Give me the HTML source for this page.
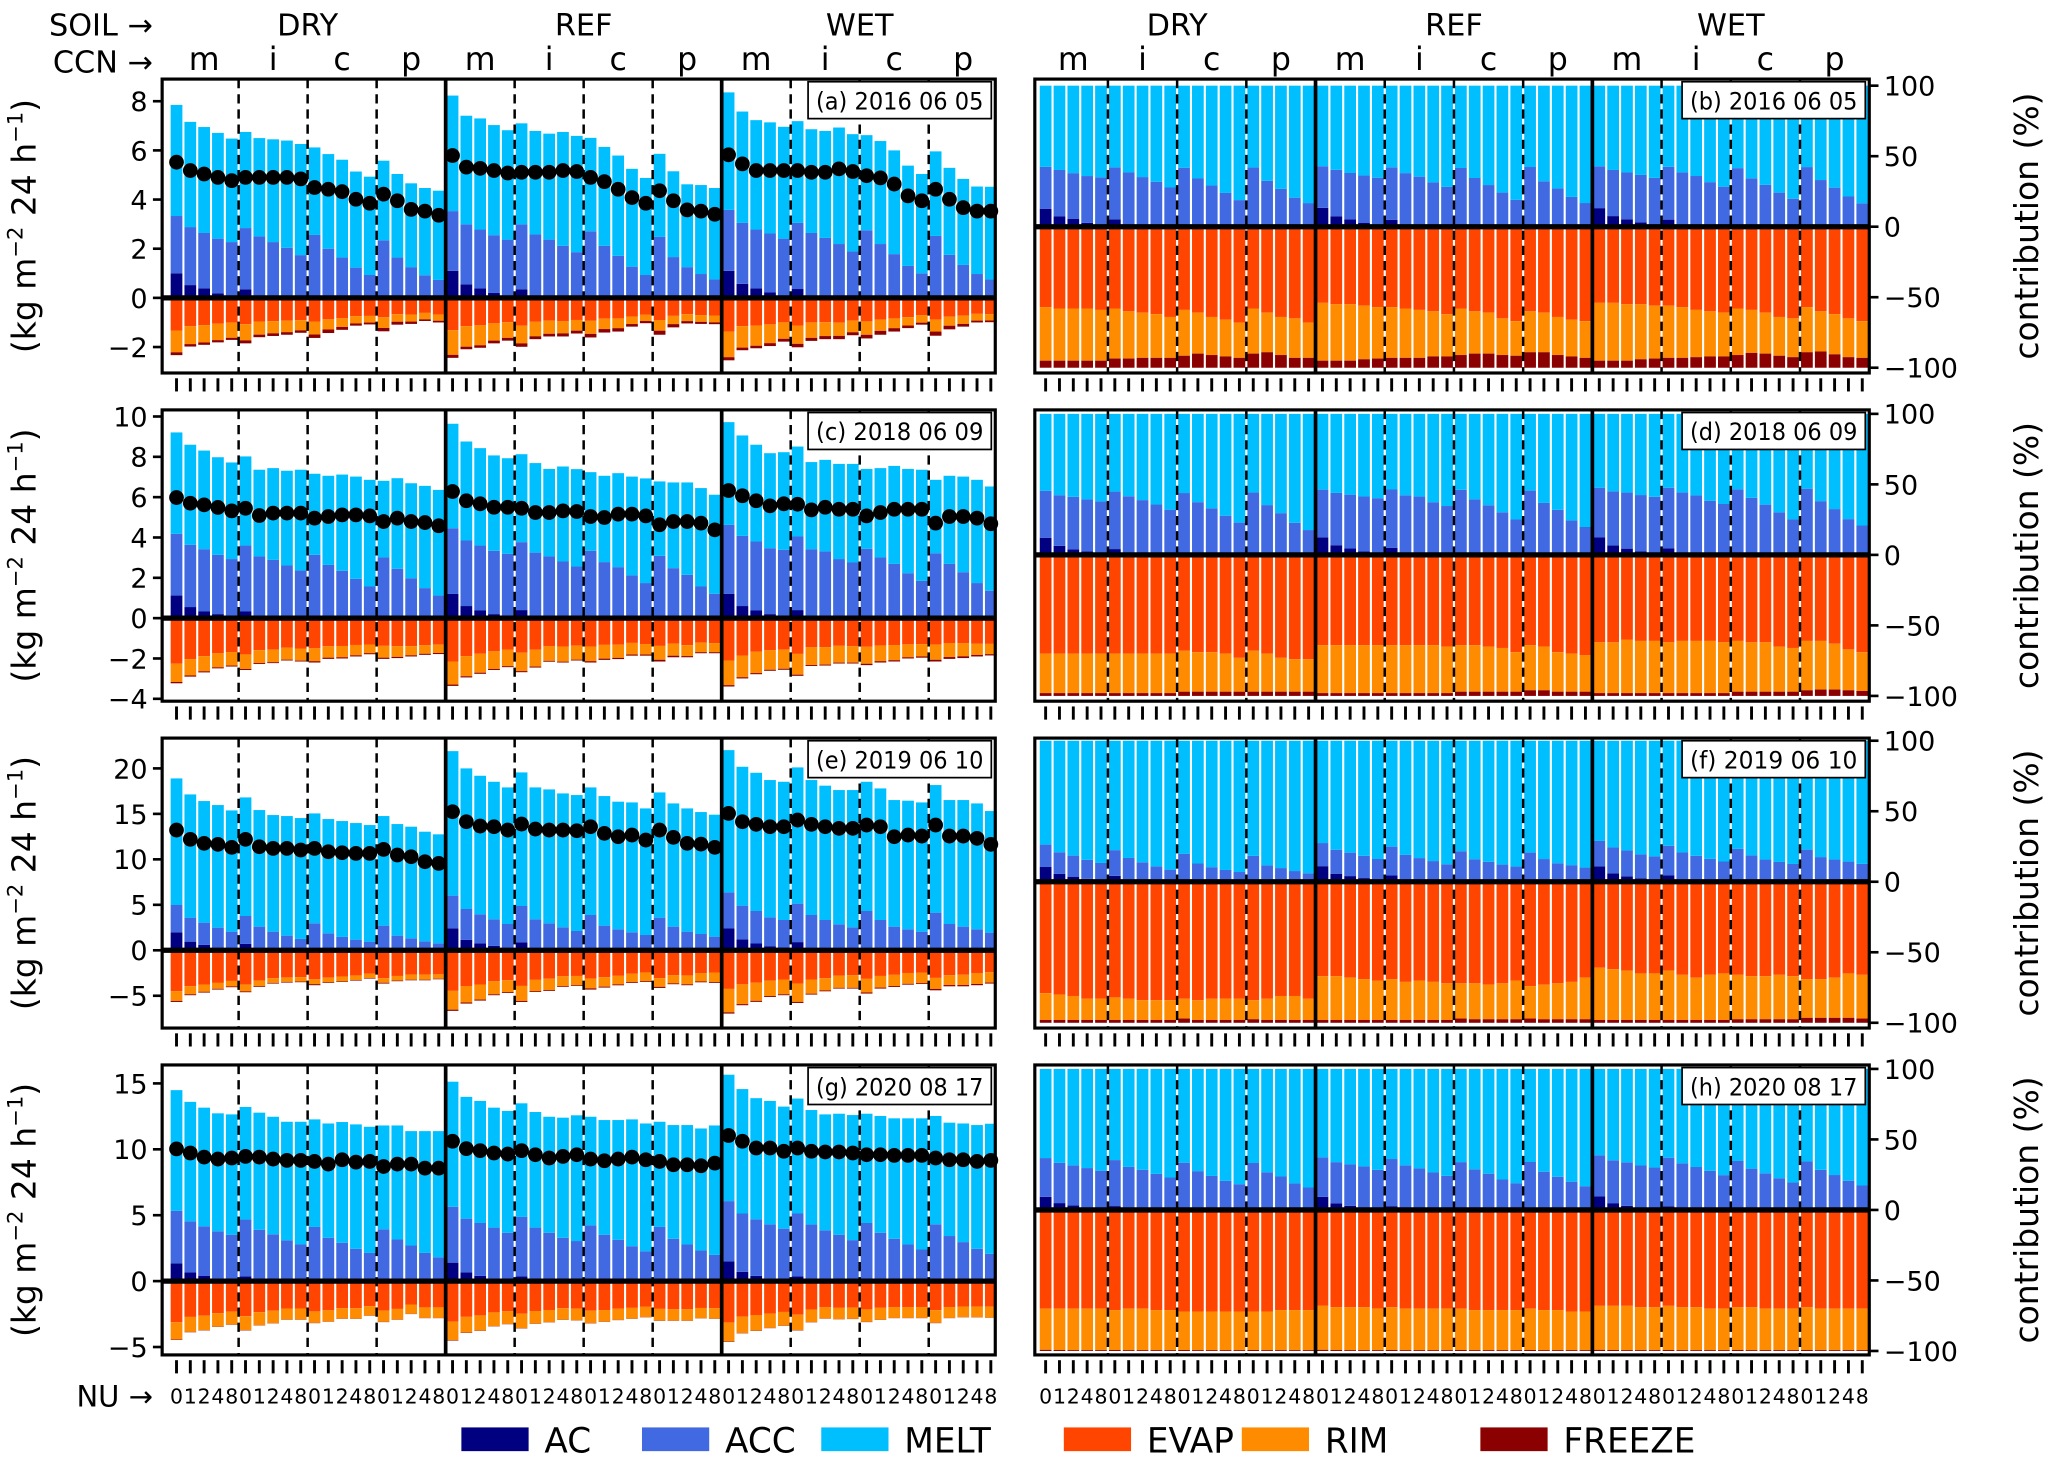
<!DOCTYPE html>
<html><head><meta charset="utf-8"><title>Hydrometeor process contributions</title>
<style>
html,body{margin:0;padding:0;background:#fff;}
svg{display:block;font-family:"DejaVu Sans","Liberation Sans",sans-serif;}
</style></head>
<body>
<svg id="fig" xmlns="http://www.w3.org/2000/svg" width="2067" height="1463" viewBox="0 0 1568 1110" preserveAspectRatio="none">
<rect x="0" y="0" width="1568" height="1110" fill="#fff"/>
</svg>
<script>
// ---------- DATA ----------
const soils = ['DRY','REF','WET'];
const ccnLabels = ['m','i','c','p'];
const nuLabels = ['0','1','2','4','8'];
const seriesNames = ['AC','ACC','MELT','EVAP','RIM','FREEZE'];

// Panel (a)/(b) 2016 06 05
const aTop = [7.85,7.16,6.95,6.71,6.48,6.75,6.5,6.45,6.4,6.26,6.12,5.85,5.62,5.14,4.93,5.58,5.04,4.66,4.47,4.36,
 8.23,7.41,7.3,7.03,6.82,7.1,6.79,6.68,6.75,6.59,6.51,6.14,5.79,5.25,4.88,5.86,5.15,4.62,4.59,4.47,
 8.36,7.58,7.23,7.14,6.96,7.19,6.86,6.79,6.93,6.66,6.62,6.38,6.0,5.38,5.04,5.96,5.29,4.84,4.53,4.52];
const aAccTop = [3.33,2.88,2.64,2.41,2.27,2.84,2.5,2.27,2.04,1.74,2.56,2.0,1.64,1.23,0.93,2.34,1.64,1.25,0.92,0.73,
 3.53,2.99,2.78,2.55,2.37,2.99,2.58,2.37,2.12,1.86,2.71,2.12,1.71,1.27,0.93,2.48,1.66,1.25,0.97,0.75,
 3.58,3.05,2.78,2.62,2.41,3.05,2.64,2.44,2.19,1.89,2.75,2.19,1.78,1.3,1.0,2.52,1.75,1.34,0.97,0.75];
const aAc = [1.0,0.52,0.38,0.18,0.07,0.35,0.05,0.02,0,0,0.02,0,0,0,0,0,0,0,0,0,
 1.1,0.55,0.38,0.2,0.05,0.35,0.05,0,0,0,0,0,0,0,0,0,0,0,0,0,
 1.1,0.57,0.38,0.22,0.06,0.36,0.05,0,0,0,0,0,0,0,0,0,0,0,0,0];
const aNet = [5.52,5.18,5.04,4.9,4.77,4.9,4.9,4.9,4.9,4.84,4.49,4.42,4.32,4.01,3.85,4.22,3.95,3.6,3.53,3.36,
 5.79,5.32,5.27,5.18,5.08,5.11,5.11,5.11,5.18,5.14,4.9,4.73,4.42,4.08,3.85,4.36,3.95,3.58,3.53,3.4,
 5.82,5.45,5.18,5.18,5.18,5.18,5.11,5.11,5.25,5.14,4.97,4.88,4.63,4.15,3.95,4.42,4.01,3.67,3.53,3.53];
const bEvapPct = [57,58,58,58,59,58,60,61,62,64,59,61,64,66,68,58,61,64,65,68,
 54,55,55,56,57,57,58,59,60,62,58,60,61,65,67,60,61,64,66,67,
 54,54,55,55,56,56,57,59,60,61,58,59,61,64,65,57,60,62,65,67];
const bFrzPct = [5,5,5,5,5,6.5,6.5,7,7,7,8.5,10,9,8,7,10,11,9,7,7,
 5,5,5,6,6.5,7,7,7,8,8,9,10,10,9,8.5,11,11,9,8,7,
 5,5,5,6,6.5,7,7,7.5,8,8,9,10.5,10,8.5,7.5,11,11.5,9.5,7.5,7];

// Panel (c)/(d) 2018 06 09
const cTop = [9.21,8.6,8.31,7.98,7.72,8.02,7.36,7.44,7.31,7.36,7.16,7.06,7.12,7.02,6.86,6.81,6.94,6.69,6.56,6.36,
 9.64,8.76,8.43,8.07,7.93,8.13,7.69,7.4,7.52,7.39,7.24,7.06,7.19,7.02,6.93,6.78,6.73,6.73,6.45,6.12,
 9.72,9.06,8.6,8.18,8.23,8.51,7.74,7.85,7.65,7.65,7.4,7.44,7.55,7.4,7.36,6.86,7.06,7.02,6.86,6.53];
const cAccTop = [4.18,3.64,3.42,3.14,2.93,3.6,3.06,2.89,2.61,2.36,3.14,2.64,2.35,1.95,1.57,3.01,2.45,1.98,1.49,1.12,
 4.46,3.85,3.6,3.34,3.19,3.77,3.25,3.06,2.81,2.56,3.34,2.78,2.53,2.12,1.74,3.09,2.48,2.15,1.57,1.21,
 4.63,4.08,3.8,3.47,3.39,4.05,3.42,3.31,2.93,2.76,3.44,3.01,2.69,2.23,1.85,3.22,2.69,2.28,1.74,1.36];
const cAc = [1.12,0.55,0.33,0.2,0.12,0.33,0.05,0,0,0,0,0,0,0,0,0,0,0,0,0,
 1.2,0.6,0.38,0.2,0.1,0.4,0.05,0,0,0,0,0,0,0,0,0,0,0,0,0,
 1.2,0.6,0.38,0.2,0.1,0.4,0.05,0,0,0,0,0,0,0,0,0,0,0,0,0];
const cNet = [5.98,5.7,5.62,5.49,5.32,5.45,5.09,5.21,5.21,5.21,4.96,5.04,5.12,5.12,5.07,4.79,4.96,4.79,4.74,4.58,
 6.28,5.82,5.67,5.5,5.5,5.45,5.24,5.24,5.32,5.29,5.04,4.99,5.16,5.16,5.07,4.63,4.79,4.79,4.71,4.38,
 6.33,6.07,5.82,5.57,5.67,5.65,5.37,5.5,5.4,5.4,5.07,5.24,5.4,5.4,5.4,4.71,5.04,5.04,4.96,4.68];
const dEvapPct = [70,70,70,70,70,70,70,70,70,70,68,69,69,70,73,68,70,73,74,74,
 64,64,64,64,64,64,64,64,64,65,64,64,65,66,69,64,65,69,70,71,
 62,62,60,61,61,62,61,61,61,62,61,62,62,65,66,61,61,63,67,69];
const dFrzPct = [2,2,2,2,2,2,2,2,2,2,3,3,3,3,3,3,3,3,3,3,
 2,2,2,2,2,2,2,2,2,2,3,3,3,3,3,4,4,3,3,3,
 2,2,2,2,2,2,2,2,2,2,3,3,3,3,3,4,4.5,4.5,4,3.5];

// Panel (e)/(f) 2019 06 10
const eTop = [18.9,17.14,16.41,15.97,15.38,16.81,15.42,14.87,14.76,14.54,15.05,14.43,14.21,13.99,13.77,14.76,13.88,13.59,13.04,12.75,
 21.9,20.0,19.19,18.53,17.91,19.56,17.91,17.69,17.25,17.07,17.91,16.96,16.34,16.26,15.6,17.36,16.15,15.6,15.2,14.91,
 22.01,20.18,19.52,18.72,18.53,20.11,18.72,18.1,17.62,17.62,18.53,17.8,16.52,16.45,16.26,18.17,16.52,16.52,16.15,15.31];
const eAccTop = [4.98,3.59,3.04,2.49,2.05,3.77,2.6,2.05,1.61,1.25,2.97,1.87,1.47,1.17,0.95,2.71,1.61,1.32,0.99,0.77,
 6.01,4.54,3.96,3.41,2.89,4.87,3.41,2.97,2.53,2.12,3.88,2.71,2.31,1.98,1.68,3.59,2.6,2.05,1.79,1.5,
 6.37,4.91,4.32,3.63,3.33,5.13,3.88,3.33,2.86,2.53,4.32,3.33,2.6,2.31,2.05,4.14,2.89,2.6,2.31,1.94];
const eAc = [1.98,0.95,0.59,0.33,0.2,0.7,0.1,0,0,0,0,0,0,0,0,0,0,0,0,0,
 2.42,1.14,0.77,0.48,0.33,0.88,0.1,0,0,0,0,0,0,0,0,0,0,0,0,0,
 2.4,1.2,0.75,0.45,0.3,0.9,0.1,0,0,0,0,0,0,0,0,0,0,0,0,0];
const eNet = [13.22,12.2,11.76,11.65,11.32,12.2,11.39,11.21,11.21,11.03,11.21,10.84,10.73,10.66,10.66,11.1,10.48,10.29,9.74,9.56,
 15.24,14.14,13.66,13.59,13.22,13.88,13.33,13.22,13.22,13.15,13.59,12.86,12.49,12.67,12.12,13.22,12.42,11.76,11.68,11.32,
 15.05,14.14,13.85,13.59,13.59,14.32,13.85,13.59,13.41,13.41,13.77,13.59,12.49,12.67,12.56,13.77,12.56,12.56,12.31,11.65];
const fEvapPct = [79,80,81,83,83,82,83,84,84,84,83,84,83,83,83,84,83,81,81,83,
 67,67,68,69,70,69,71,70,71,72,72,72,73,72,70,74,73,72,71,68,
 61,62,63,65,65,63,66,68,66,65,66,67,67,66,67,69,69,68,65,66];
const fFrzPct = [2,2,2,2,2,2,2,2,2,2,3,2,2,2,2,2.5,2,2,2,2,
 2,2,2,2,2,2,2,2,2,2,3,2.5,2.5,2.5,2.5,3,2.5,2.5,2.5,2.5,
 2,2,2,2,2,2,2,2,2,2,2.5,2.5,2.5,2.5,2.5,3.5,3.5,3.5,3.5,3];

// Panel (g)/(h) 2020 08 17
const gTop = [14.49,13.6,13.16,12.73,12.65,13.21,12.78,12.47,12.09,12.09,12.27,11.96,12.07,11.89,11.71,11.81,11.81,11.38,11.38,11.38,
 15.13,13.98,13.67,13.16,12.91,13.49,12.83,12.47,12.4,12.58,12.47,12.22,12.22,12.27,11.96,12.09,11.84,11.84,11.58,11.81,
 15.66,14.57,13.88,13.67,13.24,13.85,12.98,12.65,12.7,12.6,12.7,12.53,12.35,12.35,12.35,12.53,12.02,11.96,11.84,11.94];
const gAccTop = [5.33,4.54,4.16,3.78,3.52,4.67,3.9,3.55,3.09,2.78,4.11,3.29,2.91,2.45,2.14,3.93,3.16,2.7,2.14,1.81,
 5.64,4.74,4.41,4.06,3.67,4.87,4.06,3.67,3.29,3.04,4.23,3.52,3.14,2.65,2.27,4.11,3.21,2.78,2.32,1.99,
 6.07,5.13,4.69,4.31,3.98,5.13,4.29,3.85,3.52,3.11,4.41,3.67,3.21,2.78,2.4,4.31,3.42,2.96,2.45,2.07];
const gAc = [1.35,0.66,0.41,0.2,0.1,0.36,0.05,0,0,0,0,0,0,0,0,0,0,0,0,0,
 1.4,0.66,0.4,0.2,0.1,0.36,0.05,0,0,0,0,0,0,0,0,0,0,0,0,0,
 1.5,0.7,0.4,0.2,0.1,0.36,0.05,0,0,0,0,0,0,0,0,0,0,0,0,0];
const gNet = [10.03,9.72,9.41,9.26,9.34,9.46,9.41,9.26,9.16,9.16,9.08,8.88,9.21,9.03,9.08,8.7,8.88,8.88,8.57,8.57,
 10.61,10.05,9.9,9.72,9.64,9.9,9.59,9.34,9.46,9.59,9.26,9.13,9.26,9.41,9.21,9.08,8.83,8.83,8.75,8.95,
 11.05,10.61,10.1,10.1,9.85,10.1,9.85,9.8,9.8,9.72,9.59,9.59,9.54,9.54,9.54,9.34,9.21,9.21,9.08,9.16];
const hEvapPct = [70,70,70,70,70,71,70,70,71,71,72,72,72,72,72,72,72,71,71,71,
 68,69,69,69,70,69,70,70,70,70,70,71,71,71,71,70,71,71,72,72,
 68,68,68,69,69,68,69,69,70,70,69,69,70,70,70,69,70,70,70,70];
const hFrzPct = [0.8,0.7,0.6,0.6,0.6,0.7,0.6,0.6,0.6,0.6,0.7,0.6,0.6,0.6,0.6,0.7,0.6,0.6,0.6,0.6,
 0.8,0.7,0.6,0.6,0.6,0.7,0.6,0.6,0.6,0.6,0.7,0.6,0.6,0.6,0.6,0.7,0.6,0.6,0.6,0.6,
 0.8,0.7,0.6,0.6,0.6,0.7,0.6,0.6,0.6,0.6,0.7,0.6,0.6,0.6,0.6,0.7,0.6,0.6,0.6,0.6];

const aTicks = [-2,0,2,4,6,8];
const cTicks = [-4,-2,0,2,4,6,8,10];
const eTicks = [-5,0,5,10,15,20];
const gTicks = [-5,0,5,10,15];
const pctTicks = [-100,-50,0,50,100];
const leftTitles = ['(a) 2016 06 05','(c) 2018 06 09','(e) 2019 06 10','(g) 2020 08 17'];
const rightTitles = ['(b) 2016 06 05','(d) 2018 06 09','(f) 2019 06 10','(h) 2020 08 17'];

// ---------- LAYOUT ----------
const COLORS = {AC:'#000080',ACC:'#4169e1',MELT:'#00bfff',EVAP:'#ff4500',RIM:'#ff8c00',FREEZE:'#8b0000'};
const L = {x0:123, x1:755, c0:133.9, pitch:10.47};
const R = {x0:785, x1:1418, c0:793.2, pitch:10.5};
const BW = 8.9;
const rows = [
 {top:60, bot:283, y0:226, k:18.65, ry0:172},
 {top:311, bot:532, y0:469, k:15.3, ry0:421},
 {top:560, bot:780, y0:721, k:6.9, ry0:669},
 {top:808, bot:1028, y0:972, k:10, ry0:918}
];
const panelData = [
 {top:aTop, accTop:aAccTop, ac:aAc, net:aNet, evap:bEvapPct, frz:bFrzPct, ticks:aTicks},
 {top:cTop, accTop:cAccTop, ac:cAc, net:cNet, evap:dEvapPct, frz:dFrzPct, ticks:cTicks},
 {top:eTop, accTop:eAccTop, ac:eAc, net:eNet, evap:fEvapPct, frz:fFrzPct, ticks:eTicks},
 {top:gTop, accTop:gAccTop, ac:gAc, net:gNet, evap:hEvapPct, frz:hFrzPct, ticks:gTicks}
];
const RK = 1.07;

const NS = 'http://www.w3.org/2000/svg';
const svg = document.getElementById('fig');
function mk(tag, attrs, parent){
  const e = document.createElementNS(NS, tag);
  for (const k in attrs) e.setAttribute(k, attrs[k]);
  (parent||svg).appendChild(e);
  return e;
}
function txt(s, attrs, parent){ const e = mk('text', attrs, parent); e.textContent = s; return e; }

function bar(g, x, yA, yB, color, name){
  const y = Math.min(yA,yB), h = Math.abs(yB-yA);
  const r = mk('rect', {x:x-BW/2, y:y, width:BW, height:Math.max(h,0), fill:color}, g);
  
  
  return r;
}

function separators(g, A, row){
  for (let s=1; s<12; s++){
    const xi = A.c0 + A.pitch*(s*5-0.5);
    let l;
    if (s%4===0){
      l = mk('line', {x1:xi, x2:xi, y1:row.top, y2:row.bot, stroke:'#000','stroke-width':2.8}, g);
      
    } else {
      l = mk('line', {x1:xi, x2:xi, y1:row.top, y2:row.bot, stroke:'#000','stroke-width':1.9,'stroke-dasharray':'7,4.5'}, g);
      
    }
    
  }
}

function xticks(g, A, row){
  for (let i=0;i<60;i++){
    const x = A.c0 + A.pitch*i;
    const t = mk('line', {x1:x, x2:x, y1:row.bot+4, y2:row.bot+14, stroke:'#000','stroke-width':2.2}, g);
    
    
  }
}

function titleBox(g, x, y, s, name){
  const b = mk('rect', {x:x, y:y, width:139, height:28, fill:'#fff', stroke:'#000','stroke-width':1.3}, g);
  
  
  const t = txt(s, {x:x+69.5, y:y+21, 'font-size':18.5, 'text-anchor':'middle', textLength:127, lengthAdjust:'spacingAndGlyphs'}, g);
  
  
}

rows.forEach((row, ri) => {
  const D = panelData[ri];
  const gl = mk('g', {});
  
  
  const yv = v => row.y0 - v*row.k;
  for (let i=0;i<60;i++){
    const x = L.c0 + L.pitch*i;
    const top = D.top[i], acc = D.accTop[i], ac = D.ac[i];
    const N = top - D.net[i];
    const ev = N*D.evap[i]/100, fz = N*D.frz[i]/100;
    bar(gl, x, yv(0), yv(ac), COLORS.AC, 'bar-ac');
    bar(gl, x, yv(ac), yv(acc), COLORS.ACC, 'bar-acc');
    bar(gl, x, yv(acc), yv(top), COLORS.MELT, 'bar-melt');
    bar(gl, x, yv(0), yv(-ev), COLORS.EVAP, 'bar-evap');
    bar(gl, x, yv(-ev), yv(-(N-fz)), COLORS.RIM, 'bar-rim');
    bar(gl, x, yv(-(N-fz)), yv(-N), COLORS.FREEZE, 'bar-freeze');
  }
  separators(gl, L, row);
  const z = mk('line', {x1:L.x0, x2:L.x1, y1:yv(0), y2:yv(0), stroke:'#000','stroke-width':4}, gl);
  
  
  for (let i=0;i<60;i++){
    const c = mk('circle', {cx:L.c0 + L.pitch*i, cy:yv(D.net[i]), r:5.6, fill:'#000'}, gl);
    
    
  }
  const fr = mk('rect', {x:L.x0, y:row.top, width:L.x1-L.x0, height:row.bot-row.top, fill:'none', stroke:'#000','stroke-width':2.4}, gl);
  
  
  D.ticks.forEach(t => {
    const y = yv(t);
    const tl = mk('line', {x1:L.x0-7, x2:L.x0, y1:y, y2:y, stroke:'#000','stroke-width':2}, gl);
    
    
    const lb = txt(String(t).replace('-','\u2212'), {x:L.x0-11, y:y+7.5, 'font-size':20.5, 'text-anchor':'end'}, gl);
    
    
  });
  xticks(gl, L, row);
  titleBox(gl, 613, row.top+2, leftTitles[ri], 'panel-title-left');
  const yl = txt('', {transform:`translate(27,${(row.top+row.bot)/2}) rotate(-90)`, 'font-size':25, 'text-anchor':'middle'}, gl);
  
  
  yl.innerHTML = '(kg m<tspan dy="-10" font-size="16">\u22122</tspan><tspan dy="10"> 24 h</tspan><tspan dy="-10" font-size="16">\u22121</tspan><tspan dy="10">)</tspan>';

  const gr = mk('g', {});
  
  
  const yp = v => row.ry0 - v*RK;
  for (let i=0;i<60;i++){
    const x = R.c0 + R.pitch*i;
    const top = D.top[i];
    const acP = D.ac[i]/top*100, accP = D.accTop[i]/top*100;
    bar(gr, x, yp(0), yp(acP), COLORS.AC, 'bar-ac-pct');
    bar(gr, x, yp(acP), yp(accP), COLORS.ACC, 'bar-acc-pct');
    bar(gr, x, yp(accP), yp(100), COLORS.MELT, 'bar-melt-pct');
    bar(gr, x, yp(0), yp(-D.evap[i]), COLORS.EVAP, 'bar-evap-pct');
    bar(gr, x, yp(-D.evap[i]), yp(-(100-D.frz[i])), COLORS.RIM, 'bar-rim-pct');
    bar(gr, x, yp(-(100-D.frz[i])), yp(-100), COLORS.FREEZE, 'bar-freeze-pct');
  }
  separators(gr, R, row);
  const z2 = mk('line', {x1:R.x0, x2:R.x1, y1:yp(0), y2:yp(0), stroke:'#000','stroke-width':4}, gr);
  
  
  const fr2 = mk('rect', {x:R.x0, y:row.top, width:R.x1-R.x0, height:row.bot-row.top, fill:'none', stroke:'#000','stroke-width':2.4}, gr);
  
  
  pctTicks.forEach(t => {
    const y = yp(t);
    const tl = mk('line', {x1:R.x1, x2:R.x1+7, y1:y, y2:y, stroke:'#000','stroke-width':2}, gr);
    
    
    const lb = txt(String(t).replace('-','\u2212'), {x:R.x1+11, y:y+7.5, 'font-size':20.5, 'text-anchor':'start'}, gr);
    
    
  });
  xticks(gr, R, row);
  titleBox(gr, 1276, row.top+2, rightTitles[ri], 'panel-title-right');
  const yr = txt('contribution (%)', {transform:`translate(1546,${(row.top+row.bot)/2}) rotate(-90)`, 'font-size':25, 'text-anchor':'middle'}, gr);
  
  
});

// ---------- HEADERS ----------
const hdr = mk('g', {});


const s1 = txt('SOIL \u2192', {x:116, y:27, 'font-size':23, 'text-anchor':'end'}, hdr);


const s2 = txt('CCN \u2192', {x:116, y:55, 'font-size':23, 'text-anchor':'end'}, hdr);


[L, R].forEach(A => {
  soils.forEach((s, si) => {
    const t = txt(s, {x:A.c0 + A.pitch*(si*20+9.5), y:27, 'font-size':23, 'text-anchor':'middle'}, hdr);
    
    
    ccnLabels.forEach((c, ci) => {
      const u = txt(c, {x:A.c0 + A.pitch*(si*20+ci*5+2), y:53, 'font-size':24, 'text-anchor':'middle'}, hdr);
      
      
    });
  });
  for (let i=0;i<60;i++){
    const n = txt(nuLabels[i%5], {x:A.c0 + A.pitch*i, y:1065, 'font-size':15.5, 'text-anchor':'middle'}, hdr);
    
    
  }
});
const nu = txt('NU \u2192', {x:116, y:1067, 'font-size':22, 'text-anchor':'end'}, hdr);



// ---------- LEGEND ----------
const leg = mk('g', {});


const legX = [350, 487, 623, 807, 942, 1123];
seriesNames.forEach((s, i) => {
  const p = mk('rect', {x:legX[i], y:1083, width:51, height:18, fill:COLORS[s]}, leg);
  
  
  const t = txt(s, {x:legX[i]+63, y:1102, 'font-size':26}, leg);
  
  
});
</script>
</body></html>
